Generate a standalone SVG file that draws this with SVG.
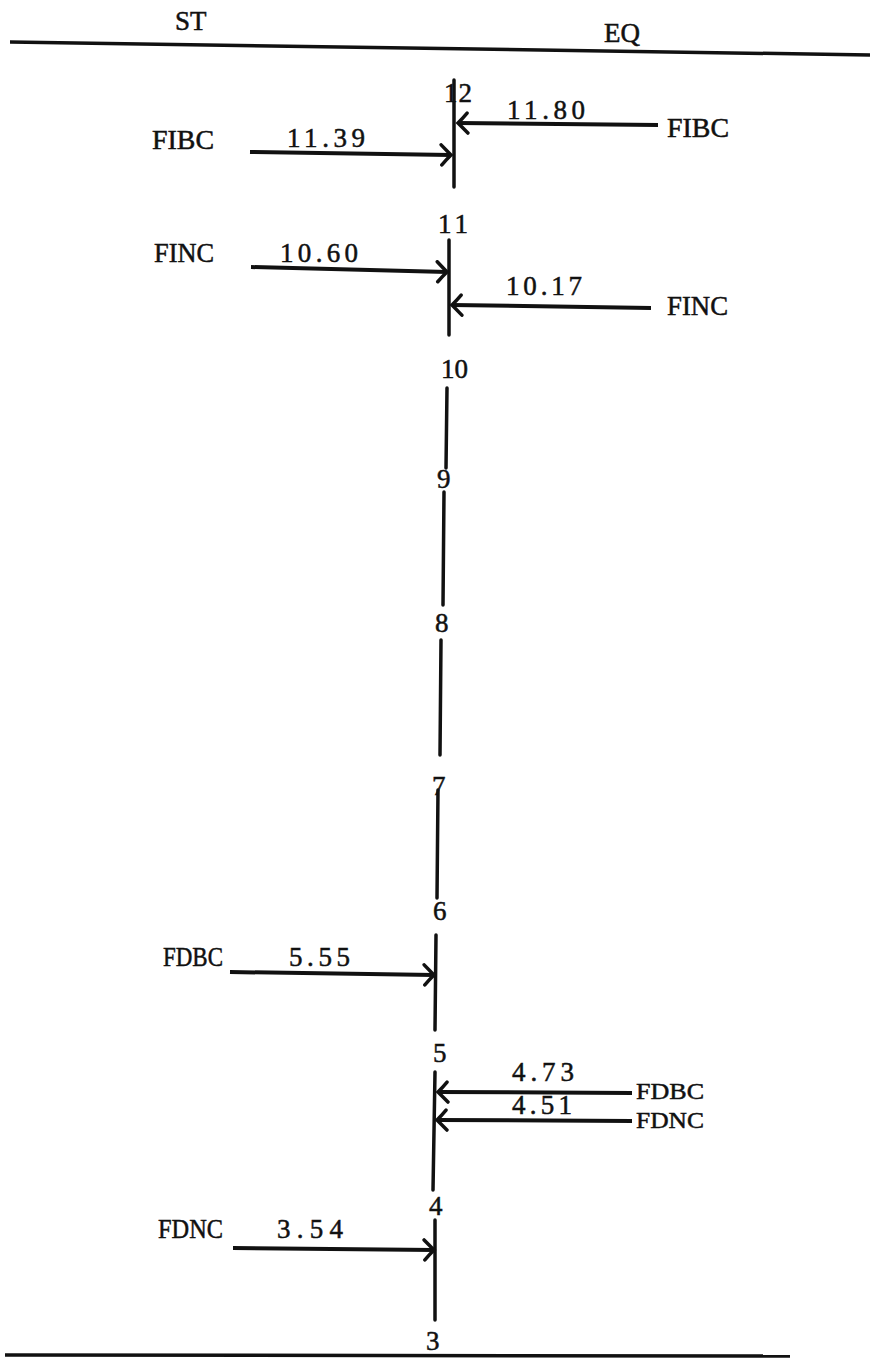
<svg xmlns="http://www.w3.org/2000/svg" width="870" height="1363" viewBox="0 0 870 1363">
<style>
text{font-family:"Liberation Serif","Times New Roman",serif;font-size:27px;fill:#111;stroke:#111;stroke-width:0.5}
text.w{lengthAdjust:spacingAndGlyphs}
text.s{font-size:24px}
.bar{stroke:#111;stroke-width:3.5;fill:none;stroke-linecap:round}
.rule{stroke:#111;stroke-width:3.5;fill:none}
.arr{stroke:#111;stroke-width:4;fill:none;marker-end:url(#head)}
</style>
<defs>
<marker id="head" markerUnits="userSpaceOnUse" markerWidth="18" markerHeight="24" refX="14" refY="12" orient="auto">
<path d="M4,2 Q10,8 14,12 Q10,16 5,22" fill="none" stroke="#111" stroke-width="3.5" stroke-linecap="round"/>
</marker>
</defs>
<rect width="870" height="1363" fill="#fff"/>
<g id="header">
<text x="175" y="30">ST</text>
<text x="604" y="42">EQ</text>
<line class="rule" x1="10" y1="42" x2="870" y2="55"/>
<line class="rule" x1="5" y1="1355" x2="790" y2="1356"/>
</g>
<g id="node12"><text x="444" y="102" textLength="28">12</text><line class="bar" x1="454" y1="80" x2="454" y2="187"/></g>
<g id="node11"><text x="438" y="233" textLength="30">11</text><line class="bar" x1="449" y1="240" x2="449" y2="335"/></g>
<g id="node10"><text x="441" y="378" textLength="27">10</text><line class="bar" x1="447" y1="388" x2="446" y2="468"/></g>
<g id="node9"><text x="437" y="488">9</text><line class="bar" x1="444" y1="492" x2="443" y2="605"/></g>
<g id="node8"><text x="435" y="632">8</text><line class="bar" x1="441" y1="640" x2="440" y2="755"/></g>
<g id="node7"><text x="432" y="795">7</text><line class="bar" x1="438" y1="790" x2="437" y2="898"/></g>
<g id="node6"><text x="433" y="920">6</text><line class="bar" x1="436" y1="935" x2="435" y2="1030"/></g>
<g id="node5"><text x="433" y="1062">5</text><line class="bar" x1="435" y1="1072" x2="433" y2="1190"/></g>
<g id="node4"><text x="429" y="1215">4</text><line class="bar" x1="435" y1="1220" x2="435" y2="1320"/></g>
<g id="node3"><text x="426" y="1350">3</text></g>
<g id="connectors">
<line class="arr" x1="658" y1="125" x2="458" y2="123"/>
<line class="arr" x1="250" y1="152" x2="451" y2="155"/>
<line class="arr" x1="251" y1="267" x2="447" y2="272"/>
<line class="arr" x1="651" y1="308" x2="452" y2="305"/>
<line class="arr" x1="230" y1="972" x2="434" y2="975"/>
<line class="arr" x1="632" y1="1093" x2="438" y2="1092"/>
<line class="arr" x1="632" y1="1121" x2="437" y2="1120"/>
<line class="arr" x1="233" y1="1248" x2="434" y2="1250"/>
</g>
<g id="labels">
<text class="w" x="152" y="149" textLength="62" lengthAdjust="spacingAndGlyphs">FIBC</text>
<text x="287" y="147" textLength="78">11.39</text>
<text x="507" y="119" textLength="78">11.80</text>
<text class="w" x="667" y="137" textLength="62" lengthAdjust="spacingAndGlyphs">FIBC</text>
<text class="w" x="154" y="262" textLength="60" lengthAdjust="spacingAndGlyphs">FINC</text>
<text x="280" y="262" textLength="78">10.60</text>
<text x="506" y="295" textLength="76">10.17</text>
<text class="w" x="667" y="315" textLength="61" lengthAdjust="spacingAndGlyphs">FINC</text>
<text class="w" x="163" y="966" textLength="60" lengthAdjust="spacingAndGlyphs">FDBC</text>
<text x="289" y="966" textLength="61">5.55</text>
<text x="512" y="1081" textLength="62">4.73</text>
<text class="w s" x="636" y="1099" textLength="68" lengthAdjust="spacingAndGlyphs">FDBC</text>
<text x="512" y="1114" textLength="60">4.51</text>
<text class="w s" x="636" y="1128" textLength="68" lengthAdjust="spacingAndGlyphs">FDNC</text>
<text class="w" x="158" y="1238" textLength="65" lengthAdjust="spacingAndGlyphs">FDNC</text>
<text x="277" y="1238" textLength="66">3.54</text>
</g>
</svg>
